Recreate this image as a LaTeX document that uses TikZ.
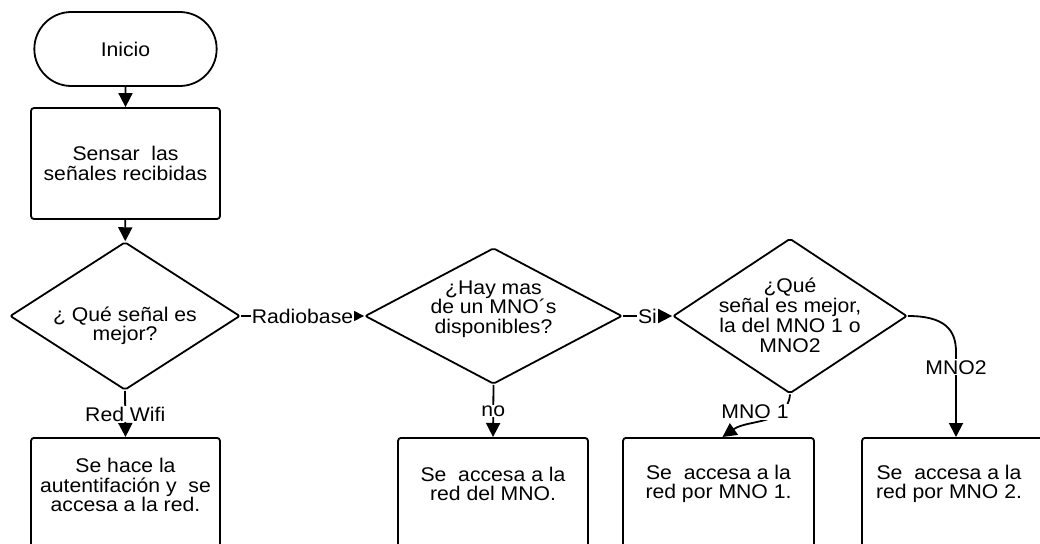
\documentclass[tikz,border=0pt]{standalone}
\usepackage{fontspec}
\setmainfont{Liberation Sans}[FakeStretch=1.07]
\usetikzlibrary{shapes.geometric,shapes.misc,arrows.meta,calc}
\begin{document}
\begin{tikzpicture}[x=1pt,y=-1pt,
  every node/.style={font=\fontsize{19.8}{19.5}\selectfont},
  ln/.style={line width=1.8pt},
  arr/.style={ln,-{Triangle[length=14pt,width=14pt]}},
  boxn/.style={draw,ln,rounded corners=3pt,inner sep=0pt},
  dia/.style={draw,ln,diamond,inner sep=0pt,rounded corners=2pt},
  txt/.style={align=center,inner sep=0pt},
  lbl/.style={fill=white,inner sep=1pt}]
\useasboundingbox (0,0) rectangle (1040,543);
% nodes
\node[draw,ln,rounded rectangle,minimum width=189pt,minimum height=74pt] (start) at (125.5,49) {Inicio};
\node[boxn,minimum width=189pt,minimum height=111pt,align=center] (sense) at (125.5,163.5) {Sensar\ \ las\\señales recibidas};
\node[dia,minimum width=230pt,minimum height=148pt] (d1) at (125,316) {};
\node[txt] at (125,326) {¿ Qué señal es\\mejor?};
\node[dia,minimum width=257pt,minimum height=136pt] (d2) at (493.5,316) {};
\node[txt] at (493.5,309) {¿Hay mas\\de un MNO´s\\disponibles?};
\node[dia,minimum width=234pt,minimum height=155pt] (d3) at (790,316) {};
\node[txt,font=\fontsize{19.8}{20}\selectfont] at (790,315) {¿Qué\\señal es mejor,\\la del MNO 1 o\\MNO2};
% bottom boxes (cut off by page)
\node[boxn,anchor=north,minimum width=189pt,minimum height=140pt] (bw) at (125.5,437) {};
\node[txt] at ($(bw.north)+(0,48)$) {Se hace la\\autentifación y\ \ se\\accesa a la red.};
\node[boxn,anchor=north,minimum width=190pt,minimum height=140pt] (b2) at (493,437) {};
\node[txt] at ($(b2.north)+(0,47)$) {Se\ \ accesa a la\\red del MNO.};
\node[boxn,anchor=north,minimum width=191pt,minimum height=140pt] (b3) at (718.5,437) {};
\node[txt] at ($(b3.north)+(0,47)$) {Se\ \ accesa a la\\red por MNO 1.};
\node[boxn,anchor=north,minimum width=190pt,minimum height=140pt] (b4) at (957,437) {};
\node[txt] at (949,484) {Se\ \ accesa a la\\red por MNO 2.};
\coordinate (m2) at (956,352);
% connectors
\draw[arr] (start) -- (sense);
\draw[arr] (sense) -- (d1);
\draw[arr] (d1.south) -- node[lbl]{Red Wifi} (bw.north);
\draw[arr] (d1.east) -- node[lbl]{Radiobase} (d2.west);
\draw[arr] (d2.south) -- node[lbl]{no} (b2.north);
\draw[arr] (d2.east) -- node[lbl]{Si} (d3.west);
\draw[arr] (d3.south) to[out=-95,in=35] ([xshift=4pt]b3.north);
\node[lbl] (l1) at (755,412) {MNO 1};
\draw[arr] (d3.east) .. controls (945,316) and (956,330) .. (m2) -- node[lbl,pos=0.18]{MNO2} (m2 |- b4.north);
\end{tikzpicture}
\end{document}
